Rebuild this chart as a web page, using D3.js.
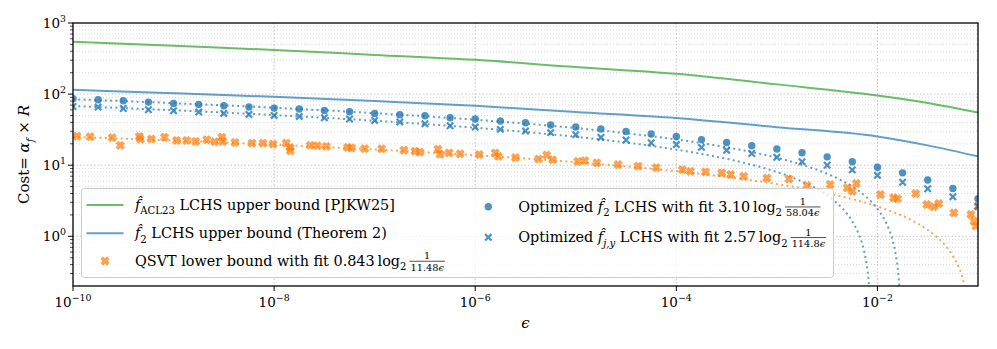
<!DOCTYPE html>
<html>
<head>
<meta charset="utf-8">
<script src="https://cdn.jsdelivr.net/npm/d3@7"></script>
<style>
body { margin: 0; background: #fff; }
svg { display: block; font-family: "DejaVu Serif", serif; }
</style>
</head>
<body>
<div class="chart"></div>
<script>
// ---- data ----
// solid upper-bound curves (log10 eps -> cost)
const boundExp = [-10, -9, -8, -7, -6, -5, -4, -3, -2, -1.5, -1];
const acl23Upper = [547, 477, 418, 356, 303, 240, 193, 137, 95.5, 75, 55];
const f2Upper = [115, 103, 91.6, 79.8, 68.5, 56.1, 46.2, 34.3, 25.4, 19.0, 13.3];

// optimized LCHS points, quarter-decade grid
const optExp = [-10, -9.75, -9.5, -9.25, -9, -8.75, -8.5, -8.25, -8, -7.75, -7.5, -7.25,
    -7, -6.75, -6.5, -6.25, -6, -5.75, -5.5, -5.25, -5, -4.75, -4.5, -4.25, -4,
    -3.75, -3.5, -3.25, -3, -2.75, -2.5, -2.25, -2, -1.75, -1.5, -1.25, -1];
const optF2 = [85.9, 83.2, 80.5, 77.2, 73.8, 71.5, 68.5, 65.7, 63.6, 61.6, 58.9, 56.5,
    53.5, 51.3, 49.6, 46.5, 44.6, 41.8, 39.6, 36.7, 34.4, 32.3, 29.9, 27.5, 25.4,
    22.9, 20.9, 18.8, 16.9, 15.0, 13.1, 11.2, 9.35, 7.80, 6.18, 4.70, 3.37];
const optFjy = [67.0, 65.7, 62.8, 60.2, 58.3, 56.0, 53.5, 51.8, 50.1, 48.5, 46.5, 44.6,
    42.6, 40.5, 38.3, 35.9, 34.4, 31.9, 30.3, 28.7, 26.9, 24.6, 22.6, 20.7, 19.5,
    17.8, 16.2, 14.6, 12.9, 11.2, 9.97, 8.59, 7.21, 5.75, 4.66, 3.59, 2.65];

// QSVT lower bound points
const qsvtExp = [-9.96, -9.83, -9.61, -9.53, -9.34, -9.33, -9.22, -9.09, -8.97, -8.87,
    -8.78, -8.67, -8.59, -8.52, -8.51, -8.39, -8.22, -8.11, -8.01, -7.88, -7.84, -7.84,
    -7.64, -7.57, -7.48, -7.27, -7.23, -7.10, -6.93, -6.71, -6.60, -6.55, -6.37, -6.35,
    -6.26, -6.15, -5.96, -5.80, -5.77, -5.60, -5.37, -5.29, -5.23, -4.98, -4.91, -4.79,
    -4.58, -4.38, -4.20, -3.94, -3.86, -3.71, -3.55, -3.46, -3.33, -3.10, -2.88, -2.70,
    -2.47, -2.30, -2.25, -2.21, -1.97, -1.84, -1.80, -1.62, -1.51, -1.44, -1.39, -1.24,
    -1.07, -1.04, -1.02, -1.00];
const qsvtCost = [25.6, 25.2, 24.4, 19.0, 25.4, 23.2, 23.4, 24.8, 22.3, 22.3,
    21.6, 22.9, 21.4, 24.8, 21.6, 20.9, 20.4, 20.4, 19.8, 20.4, 17.7, 16.0,
    19.0, 18.8, 18.4, 17.8, 17.5, 17.1, 17.0, 16.2, 15.7, 15.2, 16.8, 14.3,
    14.9, 14.5, 14.1, 14.9, 13.3, 12.8, 12.2, 13.9, 11.9, 11.3, 11.6, 10.8,
    10.2, 9.7, 9.25, 8.67, 8.20, 8.05, 7.80, 7.38, 6.98, 6.59, 6.38, 5.18,
    5.35, 4.81, 4.31, 5.52, 3.87, 3.48, 3.37, 4.00, 2.80, 2.60, 2.89, 2.14,
    2.03, 1.63, 1.39, 2.62];

// fits  a * log2(1 / (b * eps)), coefficients from the legend
const fitA = [3.10, 2.57, 0.843];
const fitB = [58.04, 114.8, 11.48];

const xTicks = [1e-10, 1e-8, 1e-6, 1e-4, 1e-2];
const yTicks = [1, 10, 100, 1000];

const green = "#2ca02c", blue = "#1f77b4", orange = "#ff7f0e";

// ---- layout ----
const W = 997, H = 349;
const margin = {top: 23, right: 19, bottom: 63, left: 73};

const svg = d3.select(".chart").append("svg")
    .attr("width", W)
    .attr("height", H);

const x = d3.scaleLog().domain([1e-10, 1e-1]).range([margin.left, W - margin.right]);
const y = d3.scaleLog().domain([0.2, 1000]).range([H - margin.bottom, margin.top]);

svg.append("clipPath").attr("id", "clip")
    .append("rect")
    .attr("x", margin.left).attr("y", margin.top)
    .attr("width", x.range()[1] - margin.left)
    .attr("height", y.range()[0] - margin.top);

// grid
const grid = svg.append("g");
const yMinor = y.ticks().filter(v => !yTicks.includes(v) && v > 0.2 && v < 1000);
grid.selectAll(".ymin")
    .data(yMinor)
    .join("line")
    .attr("x1", margin.left).attr("x2", x.range()[1])
    .attr("y1", d => y(d)).attr("y2", d => y(d))
    .attr("stroke", "#c8c8c8").attr("stroke-width", 0.7)
    .attr("stroke-dasharray", "1,2");
grid.selectAll(".ymaj")
    .data(yTicks.slice(0, 3))
    .join("line")
    .attr("x1", margin.left).attr("x2", x.range()[1])
    .attr("y1", d => y(d)).attr("y2", d => y(d))
    .attr("stroke", "#bdbdbd").attr("stroke-width", 0.9)
    .attr("stroke-dasharray", "1.5,2");
grid.selectAll(".xmaj")
    .data(xTicks.slice(1))
    .join("line")
    .attr("x1", d => x(d)).attr("x2", d => x(d))
    .attr("y1", margin.top).attr("y2", y.range()[0])
    .attr("stroke", "#bdbdbd").attr("stroke-width", 0.9)
    .attr("stroke-dasharray", "1.5,2");

const plot = svg.append("g").attr("clip-path", "url(#clip)");

// solid bounds
const boundLine = d3.line()
    .x(d => x(Math.pow(10, d[0])))
    .y(d => y(d[1]))
    .curve(d3.curveMonotoneX);

plot.append("path")
    .datum(boundExp.map((e, i) => [e, acl23Upper[i]]))
    .attr("d", boundLine)
    .attr("fill", "none").attr("stroke", green)
    .attr("stroke-opacity", 0.7).attr("stroke-width", 2);

plot.append("path")
    .datum(boundExp.map((e, i) => [e, f2Upper[i]]))
    .attr("d", boundLine)
    .attr("fill", "none").attr("stroke", blue)
    .attr("stroke-opacity", 0.7).attr("stroke-width", 2);

// fit curves
const fitColors = [blue, blue, orange];
const sampleExp = d3.range(-10, -0.999, 0.002);
fitA.forEach((a, i) => {
    const pts = sampleExp
        .map(e => [Math.pow(10, e), a * Math.log2(1 / (fitB[i] * Math.pow(10, e)))])
        .filter(p => p[1] > 0.05);
    plot.append("path")
        .datum(pts)
        .attr("d", d3.line().x(d => x(d[0])).y(d => y(d[1])))
        .attr("fill", "none")
        .attr("stroke", fitColors[i])
        .attr("stroke-opacity", 0.7)
        .attr("stroke-width", 2)
        .attr("stroke-dasharray", "2,3.3");
});

// markers
// filled "X" marker outline
const xFilled = "M-1.9,-3.8L0,-1.9L1.9,-3.8L3.8,-1.9L1.9,0L3.8,1.9L1.9,3.8L0,1.9" +
    "L-1.9,3.8L-3.8,1.9L-1.9,0L-3.8,-1.9Z";

plot.append("g")
    .selectAll("path")
    .data(qsvtExp.map((e, i) => [Math.pow(10, e), qsvtCost[i]]))
    .join("path")
    .attr("d", xFilled)
    .attr("transform", d => `translate(${x(d[0])},${y(d[1])})`)
    .attr("fill", orange).attr("stroke", orange).attr("stroke-width", 1.2)
    .attr("stroke-linejoin", "round")
    .attr("opacity", 0.72);

plot.append("g")
    .selectAll("circle")
    .data(optExp.map((e, i) => [Math.pow(10, e), optF2[i]]))
    .join("circle")
    .attr("cx", d => x(d[0])).attr("cy", d => y(d[1]))
    .attr("r", 3.7)
    .attr("fill", blue).attr("fill-opacity", 0.8);

const crossPath = "M-3.2,-3.2L3.2,3.2M-3.2,3.2L3.2,-3.2";
plot.append("g")
    .selectAll("path")
    .data(optExp.map((e, i) => [Math.pow(10, e), optFjy[i]]))
    .join("path")
    .attr("d", crossPath)
    .attr("transform", d => `translate(${x(d[0])},${y(d[1])})`)
    .attr("fill", "none")
    .attr("stroke", blue).attr("stroke-opacity", 0.8).attr("stroke-width", 2.2);

// frame
svg.append("rect")
    .attr("x", margin.left).attr("y", margin.top)
    .attr("width", x.range()[1] - margin.left)
    .attr("height", y.range()[0] - margin.top)
    .attr("fill", "none").attr("stroke", "#000").attr("stroke-width", 1.3);

// ticks
const ax = svg.append("g");
const y0 = y.range()[0];
ax.selectAll(".xt").data(xTicks).join("line")
    .attr("x1", d => x(d)).attr("x2", d => x(d))
    .attr("y1", y0).attr("y2", y0 + 5)
    .attr("stroke", "#000").attr("stroke-width", 1);
ax.selectAll(".yt").data(yTicks).join("line")
    .attr("x1", margin.left - 5).attr("x2", margin.left)
    .attr("y1", d => y(d)).attr("y2", d => y(d))
    .attr("stroke", "#000").attr("stroke-width", 1);
ax.selectAll(".ym").data(yMinor).join("line")
    .attr("x1", margin.left - 3).attr("x2", margin.left)
    .attr("y1", d => y(d)).attr("y2", d => y(d))
    .attr("stroke", "#000").attr("stroke-width", 0.7);

// rich text with sub/superscripts
function rich(g, px, py, parts, fs) {
    const t = g.append("text").attr("x", px).attr("y", py).attr("font-size", fs);
    let shift = 0;
    parts.forEach(p => {
        const s = t.append("tspan").text(p.t);
        const target = p.sub ? fs * 0.3 : p.sup ? -fs * 0.45 : 0;
        if (target !== shift) { s.attr("dy", target - shift); shift = target; }
        if (p.sub || p.sup) s.attr("font-size", fs * 0.7);
        if (p.it) s.attr("font-style", "italic");
    });
    return t;
}

ax.selectAll(".xl").data(xTicks).join("g").each(function(d) {
    rich(d3.select(this), x(d), y0 + 21,
        [{t: "10"}, {t: "\u2212" + Math.round(-Math.log10(d)), sup: true}], 13.5)
        .attr("text-anchor", "middle");
});
ax.selectAll(".yl").data(yTicks).join("g").each(function(d) {
    rich(d3.select(this), margin.left - 7, y(d) + 5,
        [{t: "10"}, {t: String(Math.round(Math.log10(d))), sup: true}], 13.5)
        .attr("text-anchor", "end");
});

// axis labels
svg.append("text")
    .attr("x", (margin.left + x.range()[1]) / 2).attr("y", 328)
    .attr("text-anchor", "middle").attr("font-size", 15)
    .attr("font-style", "italic").text("\u03f5");

const yl = svg.append("g").attr("transform", `translate(29,${(margin.top + y0) / 2}) rotate(-90)`);
rich(yl, 0, 0, [{t: "Cost= "}, {t: "\u03b1", it: true}, {t: "f", it: true, sub: true},
    {t: " \u00d7 "}, {t: "R", it: true}], 15).attr("text-anchor", "middle");

// legend
const lg = svg.append("g");
lg.append("rect")
    .attr("x", 81.5).attr("y", 188.5).attr("width", 752).attr("height", 89)
    .attr("rx", 3)
    .attr("fill", "#fff").attr("fill-opacity", 0.8)
    .attr("stroke", "#cccccc").attr("stroke-width", 1);

const fhat = {t: "f\u0302", it: true};
const fs = 14.4;

function frac(g, px, base, num, den) {
    const sf = fs * 0.68;
    const dt = g.append("text").attr("font-size", sf).attr("y", base - fs * 0.33 + sf * 0.95);
    dt.append("tspan").text(den);
    dt.append("tspan").attr("font-style", "italic").text("\u03f5");
    const w = dt.node().getComputedTextLength();
    dt.attr("x", px + 1);
    g.append("line")
        .attr("x1", px).attr("x2", px + w + 2)
        .attr("y1", base - fs * 0.33).attr("y2", base - fs * 0.33)
        .attr("stroke", "#222").attr("stroke-width", 0.8);
    g.append("text").attr("font-size", sf)
        .attr("x", px + 1 + w / 2).attr("y", base - fs * 0.33 - 2)
        .attr("text-anchor", "middle").text(num);
}

function entry(px, base, parts, fracDen) {
    const t = rich(lg, px, base, parts, fs);
    if (fracDen) {
        const w = t.node().getComputedTextLength();
        frac(lg, px + w + 3, base, "1", fracDen);
    }
}

// handles
lg.append("line").attr("x1", 86.5).attr("x2", 123.5).attr("y1", 205).attr("y2", 205)
    .attr("stroke", green).attr("stroke-opacity", 0.7).attr("stroke-width", 2);
lg.append("line").attr("x1", 86.5).attr("x2", 123.5).attr("y1", 233.3).attr("y2", 233.3)
    .attr("stroke", blue).attr("stroke-opacity", 0.7).attr("stroke-width", 2);
lg.append("path").attr("d", xFilled)
    .attr("transform", "translate(105,261)")
    .attr("fill", orange).attr("stroke", orange).attr("stroke-width", 1.2)
    .attr("stroke-linejoin", "round")
    .attr("opacity", 0.72);
lg.append("circle").attr("cx", 488.3).attr("cy", 206.7).attr("r", 3.7)
    .attr("fill", blue).attr("fill-opacity", 0.8);
lg.append("path").attr("d", crossPath)
    .attr("transform", "translate(488.3,237.3)")
    .attr("fill", "none").attr("stroke", blue).attr("stroke-opacity", 0.8).attr("stroke-width", 2.2);

entry(135, 210, [fhat, {t: "ACL23", sub: true}, {t: " LCHS upper bound [PJKW25]"}]);
entry(135, 238.3, [fhat, {t: "2", sub: true}, {t: " LCHS upper bound (Theorem 2)"}]);
entry(135, 266, [{t: "QSVT lower bound with fit 0.843\u2009log"}, {t: "2", sub: true}], "11.48");
entry(518.3, 211.7, [{t: "Optimized "}, fhat, {t: "2", sub: true},
    {t: " LCHS with fit 3.10\u2009log"}, {t: "2", sub: true}], "58.04");
entry(518.3, 242.3, [{t: "Optimized "}, fhat, {t: "j,y", sub: true, it: true},
    {t: " LCHS with fit 2.57\u2009log"}, {t: "2", sub: true}], "114.8");
</script>
</body>
</html>
